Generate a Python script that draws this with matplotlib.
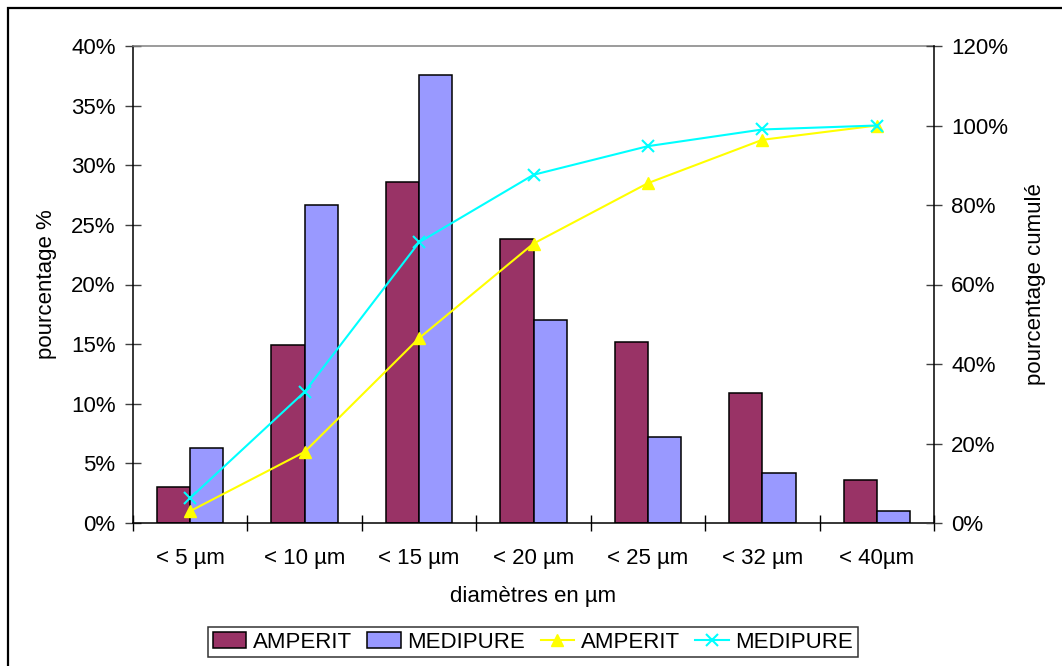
import matplotlib
matplotlib.use("Agg")
import matplotlib.pyplot as plt
from matplotlib.patches import Rectangle
from matplotlib.ticker import FixedLocator, PercentFormatter, NullFormatter

plt.rcParams['font.family'] = ['Liberation Sans', 'DejaVu Sans']

categories = ["< 5 µm", "< 10 µm", "< 15 µm", "< 20 µm", "< 25 µm", "< 32 µm", "< 40µm"]
amperit_pct = [3.0, 14.9, 28.6, 23.8, 15.2, 10.9, 3.6]
medipure_pct = [6.3, 26.7, 37.6, 17.0, 7.2, 4.2, 1.0]
amperit_cum = [3.0, 17.9, 46.5, 70.3, 85.5, 96.4, 100.0]
medipure_cum = [6.3, 33.0, 70.6, 87.6, 94.8, 99.0, 100.0]
left_ticks = [0, 5, 10, 15, 20, 25, 30, 35, 40]
right_ticks = [0, 20, 40, 60, 80, 100, 120]

W, H = 1062, 666
fig = plt.figure(figsize=(W / 100, H / 100), dpi=100)
ax = fig.add_axes([133 / W, 1 - 523 / H, (934 - 133) / W, (523 - 46) / H])

# figure frame (left and top visible)
fig.patches.append(Rectangle((8 / W, -0.1), 1.2, 1 - 8 / H + 0.1, transform=fig.transFigure,
                             fill=False, edgecolor='black', linewidth=1.6, zorder=0))

n = len(categories)
xs = list(range(n))
bw = 0.29
ax.bar([x - bw / 2 for x in xs], amperit_pct, width=bw, color='#993366',
       edgecolor='black', linewidth=1.1, label='AMPERIT', zorder=2)
ax.bar([x + bw / 2 for x in xs], medipure_pct, width=bw, color='#9999FF',
       edgecolor='black', linewidth=1.1, label='MEDIPURE', zorder=2)

ax.set_xlim(-0.5, n - 0.5)
ax.set_ylim(0, 40)
ax.yaxis.set_major_locator(FixedLocator(left_ticks))
ax.yaxis.set_major_formatter(PercentFormatter(decimals=0))
ax.xaxis.set_major_locator(FixedLocator([x - 0.5 for x in range(n + 1)]))
ax.xaxis.set_major_formatter(NullFormatter())
ax.xaxis.set_minor_locator(FixedLocator(xs))
ax.set_xticklabels(categories, minor=True)
ax.tick_params(axis='x', which='major', direction='inout', length=11, width=1, color='black')
ax.tick_params(axis='x', which='minor', length=0, pad=18, labelsize=16)
ax.tick_params(axis='y', direction='inout', length=11, width=1, color='#404040', labelsize=16, pad=7)

for s in ['left', 'bottom']:
    ax.spines[s].set_color('black')
    ax.spines[s].set_linewidth(1.1)
ax.spines['top'].set_color('#808080')
ax.spines['top'].set_linewidth(1.1)
ax.spines['right'].set_visible(False)

ax.set_xlabel("diamètres en µm", fontsize=16, labelpad=12)
ax.set_ylabel("pourcentage %", fontsize=16, labelpad=10)

ax2 = ax.twinx()
ax2.plot(xs, amperit_cum, color='#FFFF00', linewidth=1.5, marker='^', markersize=8,
         markeredgecolor='#FFFF00', label='AMPERIT', zorder=3)
ax2.plot(xs, medipure_cum, color='#00FFFF', linewidth=1.5, marker='x', markersize=8,
         markeredgewidth=1.5, label='MEDIPURE', zorder=3)
ax2.set_ylim(0, 120)
ax2.yaxis.set_major_locator(FixedLocator(right_ticks))
ax2.yaxis.set_major_formatter(PercentFormatter(decimals=0))
ax2.tick_params(axis='y', direction='inout', length=11, width=1, color='#404040', labelsize=16, pad=7)
ax2.spines['right'].set_color('black')
ax2.spines['right'].set_linewidth(1.1)
for s in ['left', 'top', 'bottom']:
    ax2.spines[s].set_visible(False)
ax2.set_ylabel("pourcentage cumulé", fontsize=16, labelpad=12)

h1, l1 = ax.get_legend_handles_labels()
h2, l2 = ax2.get_legend_handles_labels()
leg = fig.legend(h1 + h2, l1 + l2, loc='center', bbox_to_anchor=(533 / W, 1 - 642 / H),
                 ncol=4, fontsize=16, frameon=True, fancybox=False, shadow=False,
                 handlelength=1.5, handletextpad=0.3, columnspacing=0.7,
                 borderpad=0.2, borderaxespad=0)
leg.get_frame().set_edgecolor('black')
leg.get_frame().set_linewidth(1.1)

fig.savefig("out.png", dpi=100)
